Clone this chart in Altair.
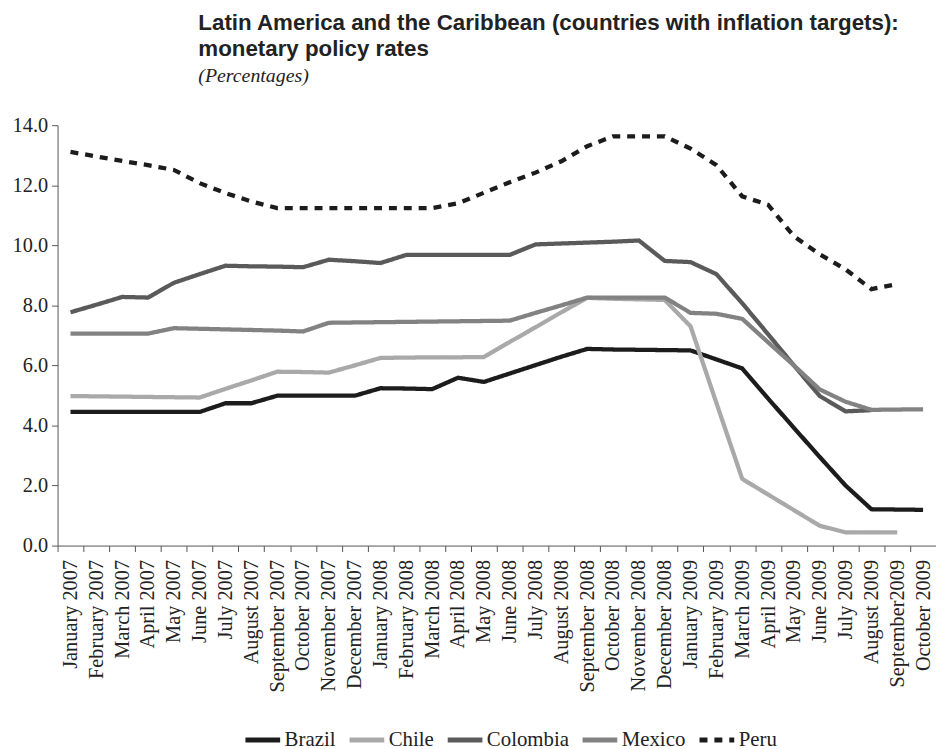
import altair as alt
import pandas as pd

months = [
    "January 2007", "February 2007", "March 2007", "April 2007", "May 2007", "June 2007",
    "July 2007", "August 2007", "September 2007", "October 2007", "November 2007", "December 2007",
    "January 2008", "February 2008", "March 2008", "April 2008", "May 2008", "June 2008",
    "July 2008", "August 2008", "September 2008", "October 2008", "November 2008", "December 2008",
    "January 2009", "February 2009", "March 2009", "April 2009", "May 2009", "June 2009",
    "July 2009", "August 2009", "September2009", "October 2009",
]

brazil = [4.45, 4.45, 4.45, 4.45, 4.45, 4.45, 4.74, 4.74, 4.99, 4.99, 4.99, 4.99,
          5.24, 5.23, 5.21, 5.59, 5.45, 5.73, 6.01, 6.29, 6.55, 6.53, 6.52, 6.51,
          6.50, 6.20, 5.90, 4.90, 3.92, 2.95, 2.00, 1.21, 1.20, 1.19]
chile = [4.98, 4.97, 4.96, 4.95, 4.94, 4.93, 5.22, 5.50, 5.79, 5.78, 5.76, 6.00,
         6.25, 6.26, 6.27, 6.27, 6.28, 6.78, 7.27, 7.77, 8.25, 8.22, 8.20, 8.18,
         7.30, 4.75, 2.22, 1.70, 1.18, 0.66, 0.44, 0.44, 0.44, None]
colombia = [7.77, 8.02, 8.28, 8.26, 8.75, 9.04, 9.32, 9.30, 9.29, 9.27, 9.52, 9.47,
            9.41, 9.68, 9.68, 9.68, 9.68, 9.68, 10.03, 10.06, 10.09, 10.12, 10.16, 9.48,
            9.44, 9.04, 8.07, 7.04, 6.00, 4.98, 4.47, 4.51, None, None]
mexico = [7.06, 7.06, 7.06, 7.06, 7.24, 7.22, 7.20, 7.18, 7.16, 7.13, 7.42, 7.43,
          7.44, 7.45, 7.46, 7.47, 7.48, 7.49, 7.75, 8.00, 8.26, 8.26, 8.26, 8.26,
          7.75, 7.72, 7.55, 6.77, 6.00, 5.20, 4.79, 4.52, 4.53, 4.54]
peru = [13.11, 12.96, 12.81, 12.67, 12.51, 12.07, 11.74, 11.46, 11.24, 11.24, 11.24, 11.24,
        11.24, 11.24, 11.24, 11.40, 11.75, 12.10, 12.42, 12.80, 13.30, 13.63, 13.63, 13.63,
        13.22, 12.67, 11.63, 11.35, 10.30, 9.70, 9.20, 8.54, 8.71, None]

countries = ["Brazil", "Chile", "Colombia", "Mexico", "Peru"]
series = [brazil, chile, colombia, mexico, peru]
colors = ["#1c1c1c", "#a9a9a9", "#5a5a5a", "#828282", "#1c1c1c"]
dashes = [[1, 0], [1, 0], [1, 0], [1, 0], [8, 7]]

rows = []
for name, vals in zip(countries, series):
    for i, (m, v) in enumerate(zip(months, vals)):
        if v is not None:
            rows.append({"month": m, "idx": i, "country": name, "value": v})
df = pd.DataFrame(rows)

chart = alt.Chart(df).mark_line(strokeWidth=4.3, strokeCap="butt", strokeJoin="miter").encode(
    x=alt.X("month:N", sort=months, scale=alt.Scale(type="band", domain=months, paddingInner=0, paddingOuter=0),
            axis=alt.Axis(title=None, labelAngle=-90, tickBand="extent", tickSize=6, labelPadding=8,
                          labelFont="Liberation Serif", labelFontSize=20.5, labelColor="#222",
                          domainColor="#555", tickColor="#555", labelOverlap=False)),
    y=alt.Y("value:Q", scale=alt.Scale(domain=[0, 14], nice=False, zero=True),
            axis=alt.Axis(title=None, values=[0, 2, 4, 6, 8, 10, 12, 14], format=".1f", grid=False,
                          tickSize=6, labelPadding=4, labelFont="Liberation Serif", labelFontSize=20.5,
                          labelColor="#222", domainColor="#555", tickColor="#555")),
    color=alt.Color("country:N", scale=alt.Scale(domain=countries, range=colors),
                    legend=alt.Legend(title=None)),
    strokeDash=alt.StrokeDash("country:N", scale=alt.Scale(domain=countries, range=dashes),
                              legend=alt.Legend(title=None)),
    order=alt.Order("idx:Q"),
).properties(
    width=886,
    height=424,
    autosize=alt.AutoSizeParams(type="none"),
    padding={"left": 50, "top": 115, "right": 0, "bottom": 205},
    title=alt.TitleParams(
        text=["Latin America and the Caribbean (countries with inflation targets):", "monetary policy rates"],
        subtitle="(Percentages)",
        anchor="start", frame="group", dx=142, offset=30,
        font="Liberation Sans", fontWeight="bold", fontSize=22.5, lineHeight=27, color="#222",
        subtitleFont="Liberation Serif", subtitleFontStyle="italic", subtitleFontSize=20,
        subtitleColor="#222", subtitlePadding=5,
    ),
).configure_view(stroke=None).configure_legend(
    orient="none", legendX=187, legendY=600, direction="horizontal",
    labelFont="Liberation Serif", labelFontSize=21, labelColor="#222",
    symbolType="stroke", symbolSize=1225, symbolStrokeWidth=5, labelOffset=2, columnPadding=3,
)

chart.save("out.html", embed_options={"renderer": "svg", "actions": False})
